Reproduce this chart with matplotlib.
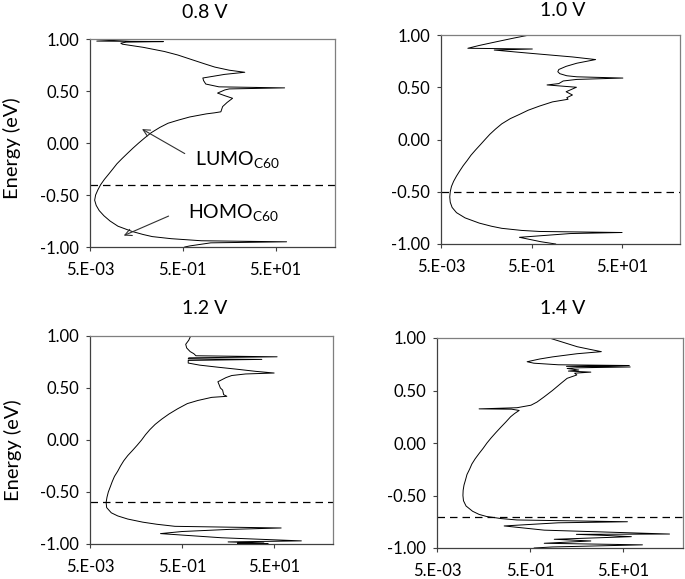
import matplotlib
matplotlib.use("Agg")
import matplotlib.pyplot as plt
from matplotlib.ticker import FixedLocator, NullLocator

plt.rcParams['font.family'] = ['Lato', 'DejaVu Sans']
plt.rcParams['mathtext.fontset'] = 'custom'
plt.rcParams['mathtext.rm'] = 'Lato'
plt.rcParams['mathtext.it'] = 'Lato:italic'

# ---------------- data ----------------
titles = ["0.8 V", "1.0 V", "1.2 V", "1.4 V"]
fermi = [-0.4, -0.5, -0.6, -0.7]

xticks = [0.005, 0.5, 50]
xticklabels = ["5.E-03", "5.E-01", "5.E+01"]
yticks = [-1.0, -0.5, 0.0, 0.5, 1.0]
yticklabels = ["-1.00", "-0.50", "0.00", "0.50", "1.00"]

e_08 = [1.00, 0.99, 0.98, 0.975, 0.97, 0.96, 0.95, 0.92, 0.88, 0.846, 0.80, 0.76,
        0.73, 0.70, 0.68, 0.66, 0.625, 0.60, 0.567, 0.54, 0.53, 0.52, 0.51, 0.48,
        0.455, 0.43, 0.39, 0.35, 0.30, 0.29, 0.28, 0.25, 0.22, 0.19, 0.15, 0.10,
        0.05, 0.00, -0.05, -0.10, -0.15, -0.20, -0.25, -0.30, -0.35, -0.40, -0.45,
        -0.50, -0.55, -0.60, -0.65, -0.70, -0.75, -0.80, -0.85, -0.88, -0.90,
        -0.92, -0.94, -0.95, -0.96, -0.99, -1.00]
t_08 = [0.07, 0.02, 0.007, 0.19, 0.03, 0.023, 0.025, 0.07, 0.2, 0.39, 0.8, 1.5,
        2.44, 5.0, 10.8, 4.0, 1.35, 1.4, 1.56, 3.0, 78, 5.0, 4.0, 2.8,
        4.0, 5.9, 4.5, 3.6, 3.3, 2.4, 1.6, 0.7, 0.4, 0.24, 0.16, 0.105,
        0.076, 0.056, 0.042, 0.032, 0.0245, 0.019, 0.0155, 0.0126, 0.0102, 0.0085, 0.0074,
        0.0066, 0.0063, 0.0068, 0.0079, 0.010, 0.0135, 0.020, 0.04, 0.07, 0.11,
        0.28, 1.26, 86, 2.0, 0.7, 0.55]

e_10 = [1.00, 0.97, 0.936, 0.90, 0.873, 0.866, 0.856, 0.828, 0.79, 0.765, 0.73,
        0.70, 0.67, 0.649, 0.63, 0.61, 0.60, 0.588, 0.575, 0.56, 0.535, 0.522,
        0.50, 0.457, 0.426, 0.40, 0.385, 0.36, 0.32, 0.28, 0.24, 0.20, 0.15, 0.10,
        0.05, 0.00, -0.05, -0.10, -0.15, -0.20, -0.25, -0.30, -0.35, -0.40, -0.45,
        -0.50, -0.55, -0.60, -0.65, -0.70, -0.75, -0.80, -0.83, -0.85, -0.87,
        -0.88, -0.89, -0.90, -0.936, -0.978, -1.00]
t_10 = [0.45, 0.2, 0.085, 0.035, 0.0196, 0.52, 0.075, 0.39, 4.0, 13.0, 5.0,
        2.9, 2.0, 1.9, 2.1, 3.0, 5.0, 52, 5.0, 2.5, 2.0, 1.1,
        4.9, 2.9, 4.0, 3.0, 3.2, 1.45, 0.75, 0.42, 0.27, 0.17, 0.11, 0.08,
        0.06, 0.047, 0.037, 0.029, 0.023, 0.019, 0.0155, 0.013, 0.011, 0.0095, 0.0085,
        0.008, 0.0078, 0.008, 0.0088, 0.011, 0.017, 0.035, 0.065, 0.11, 0.3,
        0.75, 50, 3.6, 0.27, 0.8, 1.7]

e_12 = [1.00, 0.96, 0.92, 0.885, 0.85, 0.83, 0.81, 0.80, 0.79, 0.78, 0.775, 0.765,
        0.74, 0.72, 0.70, 0.68, 0.66, 0.644, 0.635, 0.62, 0.60, 0.56, 0.53, 0.50,
        0.48, 0.436, 0.42, 0.41, 0.38, 0.35, 0.30, 0.25, 0.20, 0.15, 0.10, 0.05,
        0.00, -0.05, -0.10, -0.15, -0.20, -0.25, -0.30, -0.35, -0.40, -0.45, -0.50,
        -0.55, -0.60, -0.65, -0.70, -0.73, -0.76, -0.79, -0.81, -0.83, -0.846,
        -0.86, -0.88, -0.90, -0.94, -0.97, -0.98, -0.99, -0.993, -0.996, -1.00]
t_12 = [0.77, 0.7, 0.6, 0.63, 0.75, 0.9, 1.0, 58, 0.7, 0.68, 27, 0.68,
        0.68, 1.2, 3.0, 8.0, 20, 50, 12, 6.0, 4.5, 3.0, 3.2, 3.4,
        3.8, 4.0, 4.7, 2.2, 1.1, 0.65, 0.40, 0.26, 0.18, 0.13, 0.10, 0.08,
        0.066, 0.053, 0.042, 0.033, 0.027, 0.023, 0.020, 0.017, 0.0152, 0.0138, 0.0125,
        0.0117, 0.0112, 0.0115, 0.0145, 0.02, 0.033, 0.07, 0.14, 0.35, 71,
        5.0, 0.5, 0.17, 3.6, 195, 5.0, 30, 8, 37, 12]

e_14 = [1.00, 0.96, 0.917, 0.89, 0.87, 0.85, 0.82, 0.80, 0.774, 0.76, 0.745, 0.738,
        0.73, 0.724, 0.716, 0.71, 0.695, 0.685, 0.675, 0.665, 0.648, 0.616, 0.569,
        0.50, 0.44, 0.39, 0.36, 0.336, 0.325, 0.322, 0.31, 0.28, 0.25, 0.20, 0.15,
        0.10, 0.05, 0.00, -0.05, -0.10, -0.15, -0.20, -0.25, -0.30, -0.35, -0.40,
        -0.45, -0.50, -0.55, -0.60, -0.65, -0.68, -0.70, -0.72, -0.733, -0.75,
        -0.76, -0.79, -0.83, -0.867, -0.87, -0.88, -0.892, -0.917, -0.933, -0.955,
        -0.97, -0.99, -1.00]
t_14 = [1.28, 2.5, 5.1, 10, 16.8, 5.0, 1.5, 0.8, 0.43, 0.6, 2.0, 67,
        3.0, 70, 5.0, 3.1, 5.5, 3.3, 10, 4.5, 5.0, 3.1, 2.3,
        1.5, 1.0, 0.7, 0.52, 0.26, 0.04, 0.2, 0.29, 0.23, 0.19, 0.15, 0.117,
        0.092, 0.073, 0.059, 0.049, 0.040, 0.033, 0.028, 0.025, 0.022, 0.0205, 0.019,
        0.0182, 0.018, 0.0185, 0.021, 0.029, 0.04, 0.058, 0.12, 0.26, 61,
        2.0, 0.138, 1.0, 488, 4.9, 20, 74, 1.64, 10, 1.0,
        128, 1.5, 0.61]

energies = [e_08, e_10, e_12, e_14]
values = [t_08, t_10, t_12, t_14]

# ---------------- layout ----------------
W, H = 685, 579
fig = plt.figure(figsize=(W / 100, H / 100), dpi=100)

def rect(l, r, t, b):
    return [l / W, 1 - b / H, (r - l) / W, (b - t) / H]

rects = [rect(90, 335, 39, 247), rect(441, 680, 35, 244),
         rect(90, 333, 336, 544), rect(437, 683, 338, 548)]
title_pos = [(205, 12), (563, 10), (205, 308), (563, 308)]

axes = []
for i in range(4):
    ax = fig.add_axes(rects[i])
    ax.plot(values[i], energies[i], color='black', lw=0.7)
    ax.axhline(fermi[i], color='black', lw=0.9, ls=(0, (6, 4)))
    ax.set_xscale('log')
    ax.set_xlim(0.005, 950)
    ax.set_ylim(-1.0, 1.0)
    ax.xaxis.set_major_locator(FixedLocator(xticks))
    ax.xaxis.set_minor_locator(NullLocator())
    ax.set_xticklabels(xticklabels)
    ax.set_yticks(yticks)
    ax.set_yticklabels(yticklabels)
    ax.tick_params(axis='both', direction='out', length=3, width=0.8,
                   labelsize=12, colors='#404040', labelcolor='black')
    ax.tick_params(axis='x', pad=8)
    ax.tick_params(axis='y', pad=5)
    for s in ['left', 'bottom']:
        ax.spines[s].set_color('#404040')
        ax.spines[s].set_linewidth(0.9)
    for s in ['top', 'right']:
        ax.spines[s].set_color('#7f7f7f')
        ax.spines[s].set_linewidth(0.9)
    tx, ty = title_pos[i]
    fig.text(tx / W, 1 - ty / H, titles[i], ha='center', va='center', fontsize=14)
    axes.append(ax)

fig.text(12 / W, 1 - 148 / H, "Energy (eV)", rotation=90, ha='center', va='center', fontsize=14.5)
fig.text(13 / W, 1 - 450 / H, "Energy (eV)", rotation=90, ha='center', va='center', fontsize=14.5)

ax0 = axes[0]
ax0.annotate("", xy=(0.0586, 0.147), xytext=(0.62, -0.115),
             arrowprops=dict(arrowstyle='->', color='#303030', lw=0.8, mutation_scale=12))
ax0.annotate("", xy=(0.0235, -0.901), xytext=(0.28, -0.692),
             arrowprops=dict(arrowstyle='->', color='#303030', lw=0.8, mutation_scale=12))
ax0.text(0.905, -0.21, r"LUMO$_{\mathrm{C60}}$", fontsize=14, ha='left', va='baseline')
ax0.text(0.64, -0.72, r"HOMO$_{\mathrm{C60}}$", fontsize=14, ha='left', va='baseline')

fig.savefig("out.png", dpi=100)
